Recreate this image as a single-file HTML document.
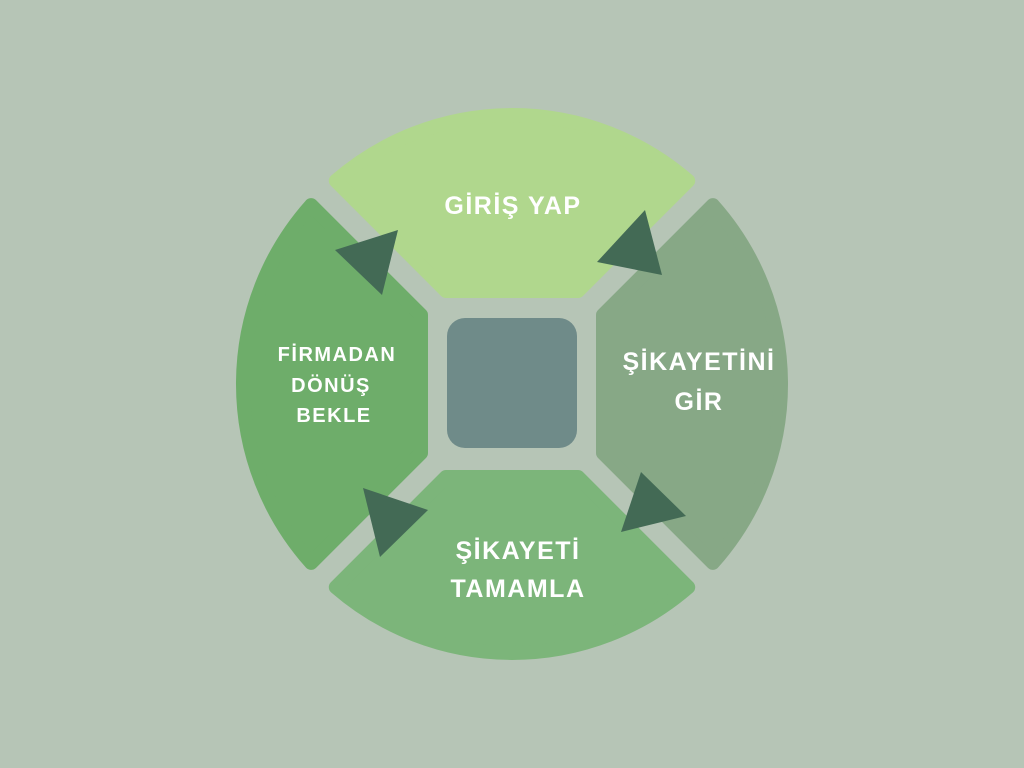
<!DOCTYPE html>
<html><head><meta charset="utf-8"><style>
html,body{margin:0;padding:0;background:#b6c5b6;}
svg{display:block}
text{font-family:"Liberation Sans","DejaVu Sans",sans-serif;font-weight:bold;fill:#fff;text-anchor:middle;}
</style></head><body>
<svg width="1024" height="768" viewBox="0 0 1024 768">
<rect width="1024" height="768" fill="#b6c5b6"/>
<g transform="translate(512,384)">
 <path d="M -66,-93 L -176.2,-203.2 A 269 269 0 0 1 176.2,-203.2 L 66,-93 Z" fill="#b0d78d" stroke="#b0d78d" stroke-width="14" stroke-linejoin="round"/>
 <path d="M 91,-69 L 200.9,-178.9 A 269 269 0 0 1 200.9,178.9 L 91,69 Z" fill="#87a886" stroke="#87a886" stroke-width="14" stroke-linejoin="round"/>
 <path d="M -66,93 L -176.2,203.2 A 269 269 0 0 0 176.2,203.2 L 66,93 Z" fill="#7cb57a" stroke="#7cb57a" stroke-width="14" stroke-linejoin="round"/>
 <path d="M -91,-69 L -200.9,-178.9 A 269 269 0 0 0 -200.9,178.9 L -91,69 Z" fill="#6ead6a" stroke="#6ead6a" stroke-width="14" stroke-linejoin="round"/>
</g>
<rect x="447" y="318" width="130" height="130" rx="18" fill="#6f8b89"/>
<g fill="#436a55">
 <polygon points="335,250 398,230 382,295"/>
 <polygon points="597,262 645,210 662,275"/>
 <polygon points="621,532 641,472 686,516"/>
 <polygon points="363,488 428,510 380,557"/>
</g>
<g letter-spacing="1.5">
<text x="513" y="214" font-size="25">GİRİŞ YAP</text>
<text x="699" y="370" font-size="25">ŞİKAYETİNİ</text>
<text x="699" y="410" font-size="25">GİR</text>
<text x="518" y="559" font-size="25">ŞİKAYETİ</text>
<text x="518" y="597" font-size="25">TAMAMLA</text>
<text x="337" y="361" font-size="20">FİRMADAN</text>
<text x="331" y="392" font-size="20">DÖNÜŞ</text>
<text x="334" y="422" font-size="20">BEKLE</text>
</g>
</svg>
</body></html>
